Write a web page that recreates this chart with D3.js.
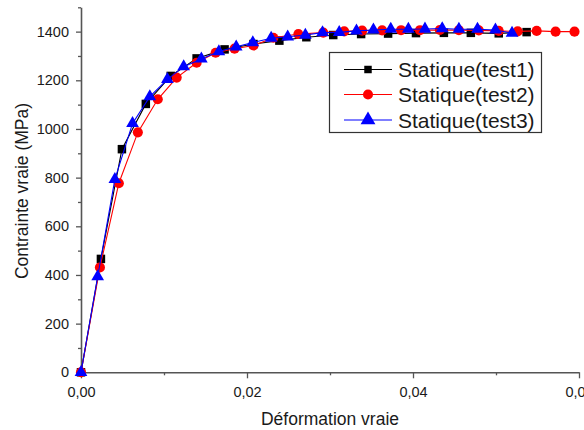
<!DOCTYPE html>
<html>
<head>
<meta charset="utf-8">
<script src="https://cdn.jsdelivr.net/npm/d3@7"></script>
<style>
  html, body { margin: 0; padding: 0; background: #fff; }
  svg { display: block; font-family: "Liberation Sans", Arial, sans-serif; }
</style>
</head>
<body>
<svg id="chart" width="584" height="430"></svg>
<script>
// ---- data ----
const seriesNames = ["Statique(test1)", "Statique(test2)", "Statique(test3)"];

const test1Strain = [0, 0.0024, 0.00493, 0.00781, 0.01081, 0.01393, 0.0173, 0.02078, 0.0239, 0.02715, 0.03039, 0.03375, 0.0370, 0.04036, 0.04372, 0.04697, 0.05033, 0.05369];
const test1Stress = [0, 466, 917, 1103, 1218, 1290, 1327, 1349, 1363, 1377, 1386, 1390, 1392, 1394, 1395, 1395, 1393, 1398];

const test2Strain = [0, 0.00228, 0.00456, 0.00685, 0.00925, 0.01153, 0.01393, 0.01622, 0.0185, 0.02078, 0.02318, 0.02619, 0.02919, 0.03171, 0.03387, 0.03628, 0.03856, 0.04084, 0.04324, 0.04553, 0.04793, 0.05033, 0.05261, 0.0549, 0.05718, 0.05946];
const test2Stress = [0, 431, 777, 986, 1122, 1211, 1272, 1313, 1330, 1343, 1375, 1390, 1396, 1401, 1404, 1405, 1406, 1406, 1407, 1406, 1405, 1403, 1401, 1403, 1400, 1400];

const test3Strain = [0, 0.00201, 0.00408, 0.00621, 0.00829, 0.01041, 0.01237, 0.0145, 0.01661, 0.0187, 0.0207, 0.02291, 0.0249, 0.02703, 0.0291, 0.03111, 0.03319, 0.03523, 0.03732, 0.03944, 0.04144, 0.04352, 0.04553, 0.04777, 0.04993, 0.05193];
const test3Stress = [0, 393, 793, 1023, 1133, 1204, 1256, 1288, 1318, 1338, 1355, 1373, 1379, 1386, 1396, 1397, 1403, 1407, 1410, 1410, 1411, 1413, 1410, 1410, 1407, 1394];

const xTicks = [0, 0.02, 0.04, 0.06];
const xMinorTicks = [0.01, 0.03, 0.05];
const yTicks = [0, 200, 400, 600, 800, 1000, 1200, 1400];
const yMinorTicks = [100, 300, 500, 700, 900, 1100, 1300, 1500];

const xTitle = "Déformation vraie";
const yTitle = "Contrainte vraie (MPa)";

// ---- chart ----
const svg = d3.select("#chart");
const x = d3.scaleLinear().domain([0, 0.06]).range([81, 579]);
const y = d3.scaleLinear().domain([0, 1500]).range([372.3, 7.3]);

const axisColor = "#555";
const textColor = "#1a1a1a";
const fmtX = d => d3.format(".2f")(d).replace(".", ",");

// minor ticks
svg.append("g").attr("transform", `translate(0,${y(0)})`)
  .call(d3.axisBottom(x).tickValues(xMinorTicks).tickSize(3).tickFormat(""))
  .call(g => g.select(".domain").remove());
svg.append("g").attr("transform", `translate(${x(0)},0)`)
  .call(d3.axisLeft(y).tickValues(yMinorTicks).tickSize(3).tickFormat(""))
  .call(g => g.select(".domain").remove());

// major axes
const gx = svg.append("g").attr("transform", `translate(0,${y(0)})`)
  .call(d3.axisBottom(x).tickValues(xTicks).tickSize(6).tickPadding(8).tickSizeOuter(0).tickFormat(fmtX));
const gy = svg.append("g").attr("transform", `translate(${x(0)},0)`)
  .call(d3.axisLeft(y).tickValues(yTicks).tickSize(5).tickPadding(7).tickSizeOuter(0).tickFormat(d3.format("d")));

svg.selectAll(".tick line, .domain").attr("stroke", axisColor).attr("stroke-width", 1.3);
svg.selectAll(".domain").attr("stroke-width", 1.6);
svg.selectAll(".tick text").attr("fill", textColor).style("font-size", "14.5px")
  .style("font-family", "'Liberation Sans', Arial, sans-serif");

// titles
svg.append("text").attr("x", 330).attr("y", 425).attr("text-anchor", "middle")
  .attr("fill", textColor).style("font-size", "17.5px").text(xTitle);
svg.append("text").attr("transform", "translate(28,191) rotate(-90)").attr("text-anchor", "middle")
  .attr("fill", textColor).style("font-size", "17.5px").text(yTitle);

// series
const series = [
  { name: seriesNames[0], xs: test1Strain, ys: test1Stress, color: "#000000", shape: d3.symbolSquare, size: 72 },
  { name: seriesNames[1], xs: test2Strain, ys: test2Stress, color: "#ff0000", shape: d3.symbolCircle, size: 80 },
  { name: seriesNames[2], xs: test3Strain, ys: test3Stress, color: "#0000ff", shape: d3.symbolTriangle, size: 70 }
];

const line = d3.line().x(d => x(d[0])).y(d => y(d[1]));

series.forEach(s => {
  const pts = s.xs.map((v, i) => [v, s.ys[i]]);
  const g = svg.append("g");
  g.append("path").datum(pts).attr("d", line)
    .attr("fill", "none").attr("stroke", s.color).attr("stroke-width", 1.1);
  g.selectAll("path.m").data(pts).join("path").attr("class", "m")
    .attr("transform", d => `translate(${x(d[0])},${y(d[1])})`)
    .attr("d", d3.symbol().type(s.shape).size(s.size))
    .attr("fill", s.color);
});

// legend
const lg = svg.append("g");
lg.append("rect").attr("x", 329.5).attr("y", 52.5).attr("width", 212).attr("height", 80)
  .attr("fill", "#fff").attr("stroke", "#333").attr("stroke-width", 1.2);
const rowsY = [69.5, 94.5, 120];
const legSizes = [56, 80, 95];
series.forEach((s, i) => {
  const ry = rowsY[i];
  lg.append("line").attr("x1", 344).attr("x2", 392).attr("y1", ry).attr("y2", ry)
    .attr("stroke", s.color).attr("stroke-width", 1.1);
  lg.append("path").attr("transform", `translate(368,${ry})`)
    .attr("d", d3.symbol().type(s.shape).size(legSizes[i])).attr("fill", s.color);
  lg.append("text").attr("x", 398).attr("y", ry + 7.6).attr("fill", textColor)
    .style("font-size", "21px").text(s.name);
});
</script>
</body>
</html>
